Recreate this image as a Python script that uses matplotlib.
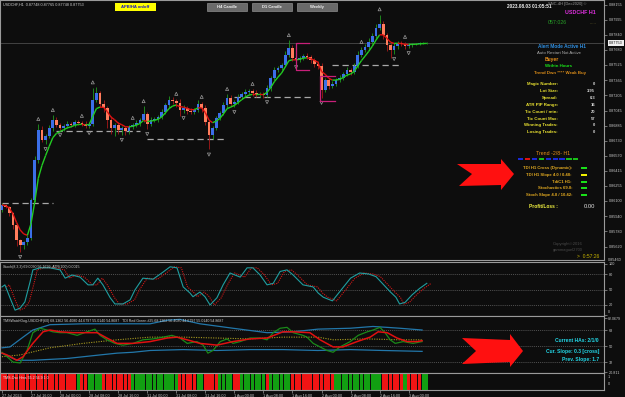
import numpy as np
import pandas as pd
import matplotlib
matplotlib.use('Agg')
import matplotlib.pyplot as plt
from matplotlib.collections import LineCollection
from matplotlib.patches import Rectangle, Polygon

plt.rcParams['font.family'] = ['Liberation Sans', 'DejaVu Sans']

W, H = 625, 397
BG = '#0d0d0d'
EDGE = '#9a9a9a'
LBL = '#c8c8c8'

# ---- USDCHF H1 candles (close prices, wicks in points) ----
first_open = 0.86003
close = [0.86056, 0.86035, 0.85972, 0.85846, 0.85689, 0.85636, 0.85668, 0.85710, 0.86108, 0.86527,
         0.86842, 0.86737, 0.86779, 0.86863, 0.86946, 0.86894, 0.86863, 0.86884, 0.86904, 0.86894,
         0.86925, 0.86915, 0.86904, 0.86884, 0.86904, 0.87156, 0.87229, 0.87114, 0.87072, 0.86946,
         0.86863, 0.86894, 0.86842, 0.86863, 0.86831, 0.86873, 0.86894, 0.86915, 0.86946, 0.87009,
         0.86904, 0.86946, 0.86957, 0.86978, 0.87030, 0.87104, 0.87156, 0.87146, 0.87125, 0.87051,
         0.87072, 0.87041, 0.87030, 0.87051, 0.87114, 0.87072, 0.86925, 0.86789, 0.86863, 0.86967,
         0.87020, 0.87104, 0.87177, 0.87114, 0.87135, 0.87187, 0.87219, 0.87240, 0.87250, 0.87229,
         0.87208, 0.87219, 0.87208, 0.87282, 0.87387, 0.87470, 0.87491, 0.87523, 0.87628, 0.87701,
         0.87596, 0.87575, 0.87596, 0.87617, 0.87607, 0.87575, 0.87533, 0.87512, 0.87261, 0.87366,
         0.87303, 0.87324, 0.87366, 0.87387, 0.87428, 0.87470, 0.87449, 0.87512, 0.87628, 0.87680,
         0.87711, 0.87764, 0.87827, 0.87911, 0.87952, 0.87837, 0.87732, 0.87680, 0.87722, 0.87753,
         0.87743, 0.87722, 0.87732, 0.87743, 0.87743, 0.87753, 0.87753, 0.87753]
up_wick = [20, 10, 15, 10, 10, 10, 10, 30, 20, 40,
           60, 40, 20, 30, 50, 30, 20, 20, 30, 20,
           20, 20, 20, 30, 20, 130, 60, 20, 40, 20,
           40, 20, 30, 20, 20, 20, 20, 30, 20, 80,
           20, 30, 20, 20, 30, 20, 40, 30, 20, 40,
           30, 20, 30, 20, 40, 20, 30, 20, 20, 20,
           20, 30, 40, 30, 20, 30, 20, 30, 20, 20,
           30, 20, 20, 30, 20, 30, 20, 20, 40, 80,
           30, 30, 20, 20, 30, 20, 20, 30, 30, 20,
           20, 30, 20, 30, 20, 30, 20, 30, 40, 30,
           30, 40, 30, 40, 100, 30, 20, 20, 30, 20,
           20, 20, 20, 10, 10, 10, 10, 10]
dn_wick = [20, 10, 30, 40, 60, 70, 40, 30, 20, 20,
           30, 20, 40, 20, 30, 20, 20, 30, 20, 20,
           20, 20, 20, 20, 20, 20, 20, 30, 40, 80,
           60, 80, 40, 50, 40, 30, 20, 20, 30, 20,
           50, 20, 20, 30, 20, 20, 30, 30, 40, 60,
           30, 30, 20, 20, 20, 40, 30, 150, 40, 20,
           20, 20, 30, 20, 30, 20, 20, 20, 20, 30,
           20, 20, 30, 20, 30, 20, 20, 20, 20, 20,
           30, 20, 20, 20, 20, 30, 30, 30, 80, 20,
           30, 20, 20, 20, 20, 20, 30, 20, 20, 20,
           20, 20, 20, 20, 20, 40, 60, 80, 40, 30,
           20, 30, 20, 20, 10, 10, 10, 10]

fractal_up = [10, 14, 22, 25, 36, 39, 48, 55, 62, 69, 79, 99, 104, 111]
fractal_dn = [5, 12, 16, 24, 33, 40, 50, 57, 64, 73, 81, 88, 108, 112]

sr_start = [0, 15, 40, 64, 91]
sr_end = [14, 38, 62, 86, 110]
sr_price = [0.86077, 0.86831, 0.86747, 0.87187, 0.87523]

box_left = [81.0, 87.6]
box_right = [84.5, 91.7]
box_top = [0.87753, 0.87408]
box_bottom = [0.87470, 0.87146]

current_price = 0.87753
price_ticks = [0.88155, 0.87995, 0.87840, 0.87680, 0.87525, 0.87365, 0.87205, 0.87045, 0.86885,
               0.86730, 0.86570, 0.86415, 0.86255, 0.86100, 0.85940, 0.85780, 0.85620]

# ---- Stochastic ----
stoch_x = [0, 0.8, 2.2, 3.6, 5, 6.3, 7.7, 8.5, 10.5, 13.2, 16, 17.4, 19.3, 21.5, 23.7, 25, 26.4,
           27.8, 29.8, 31.1, 33.3, 35.3, 36.6, 38.8, 41.6, 44.4, 46.3, 48.2, 49.9, 51.8, 52.6, 54.5,
           55.9, 57.3, 59.2, 60.9, 62.8, 65.6, 67.5, 69.1, 71.1, 73, 74.7, 76.6, 78.5, 80.2, 82.9,
           85.7, 87.1, 88.5, 91, 93.5, 96, 98.5, 101, 103, 105, 107, 108.5, 109.5, 111, 113, 115, 117]
stoch_k = [55, 59, 34, 10, 14, 26, 64, 88, 92, 92, 88, 72, 78, 74, 59, 59, 72,
           59, 34, 22, 22, 30, 49, 72, 70, 84, 94, 92, 55, 43, 36, 45,
           36, 20, 34, 59, 82, 74, 92, 92, 78, 59, 62, 85, 88, 78, 59,
           55, 43, 35, 28, 50, 72, 82, 80, 75, 60, 45, 35, 22, 25, 40, 52, 62]

# ---- TDI ----
tdi_green_x = [0, 1.4, 3, 5, 6.9, 8.5, 10.5, 12.4, 14, 16, 17.9, 20.7, 23.4, 25.6, 27, 28.9, 31.1,
               33.3, 36.1, 38.8, 41.6, 44.4, 46.8, 49, 51, 53.7, 55.4, 56.7, 58.1, 60.1, 62, 63.6,
               65.6, 68.3, 71.1, 73, 74.7, 76.6, 78.5, 80.2, 82.9, 84, 85.7, 87.6, 89.5, 91.2, 93.1,
               95.9, 98.1, 100.6, 102.2, 104.1, 105.5, 106.9, 108.3, 110.5, 113.2, 115.7]
tdi_green = [43, 38, 32, 31, 45, 65, 70, 68, 66, 65, 65, 62, 66, 69, 62, 57, 53,
             51, 53, 57, 58, 60, 62, 59, 53, 55, 51, 42, 45, 55, 58, 53,
             55, 59, 59, 57, 65, 70, 71, 65, 62, 60, 53, 49, 45, 43, 49,
             55, 62, 66, 68, 71, 65, 57, 53, 55, 53, 55]
tdi_red_x = [0, 1.4, 4.1, 5.8, 8.5, 11.3, 13.2, 16, 19.6, 23.4, 26.2, 28.9, 31.7, 36.1, 40.8, 45.5,
             48.2, 51, 54.5, 59.2, 63.6, 68.3, 73, 77.4, 80.2, 84.8, 87.6, 91.2, 93.9, 97.8, 101.4,
             103.6, 106.1, 108.8, 111.6, 114.3, 115.7]
tdi_red = [42, 40, 34, 38, 53, 66, 68, 66, 65, 65, 65, 59, 53, 53, 55, 59,
           60, 57, 53, 51, 55, 58, 59, 66, 66, 65, 57, 49, 49, 55, 60,
           66, 65, 59, 55, 55, 56]
band_up_x = [0, 2.2, 5.8, 8.5, 13.2, 22.3, 31.7, 40.8, 45.5, 49, 54.5, 63.6, 73, 80.2, 87, 95.9,
             102.2, 106, 109.6, 115.7]
band_up = [48, 49, 60, 68, 74, 75, 75, 75, 79, 80, 75, 70, 65, 66, 69, 70, 72, 71, 70, 68]
band_dn_x = [0, 4.1, 8.5, 17.9, 27, 31.7, 36.1, 40.8, 49.9, 59.2, 68.3, 77.4, 87, 95.9, 104.9, 115.7]
band_dn = [42, 34, 34, 36, 40, 42, 43, 45, 46, 45, 46, 46, 45, 46, 45, 44]
mid_x = [0, 5, 13.2, 22.3, 31.7, 40.8, 49.9, 59.2, 68.3, 77.4, 87, 91.2, 100.6, 109.6, 115.7]
mid = [38, 40, 48, 53, 57, 60, 60, 59, 58, 60, 60, 57, 58, 57, 57]

# ---- oscillator histogram runs (1 = bull, 0 = bear) ----
hist_run_len = [21, 1, 2, 4, 8, 13, 5, 2, 4, 4, 2, 7, 1, 6, 12, 13, 6, 1, 4, 2]
hist_run_bull = [0, 1, 0, 1, 0, 1, 0, 1, 0, 1, 0, 1, 0, 1, 0, 1, 0, 1, 0, 1]

time_labels = ['27 Jul 2023', '27 Jul 16:00', '28 Jul 00:00', '28 Jul 08:00', '28 Jul 16:00',
               '31 Jul 00:00', '31 Jul 08:00', '31 Jul 16:00', '1 Aug 00:00', '1 Aug 08:00',
               '1 Aug 16:00', '2 Aug 00:00', '2 Aug 08:00', '2 Aug 16:00', '3 Aug 00:00']

info_labels = ['Magic Number:', 'Lot Size:', 'Spread:', 'ATR PIP Range:', 'Tic Count / min:',
               'Tic Count Max:', 'Winning Trades:', 'Losing Trades:']
info_values = ['0', '3.95', '0.3', '16', '20', '57', '0', '0']
tdi_labels = ['TDI H1 Cross (Dynamic):', 'TDI H1 Slope 4.0 / 0.48:', 'TdiC1 H1:',
              'Stochastics 69.0:', 'Stoch Slope 4.8 / 10.42:']
tdi_states = ['#19e019', '#f0f000', '#19e019', '#19e019', '#19e019']
trend_boxes = ['#1a2ad8', '#e01010', '#1a2ad8', '#19c019', '#1a2ad8', '#1a2ad8', '#1a2ad8',
               '#19c019', '#19c019']

fig = plt.figure(figsize=(6.25, 3.97), dpi=100, facecolor=BG)


def ax_px(x0, y0, x1, y1):
    a = fig.add_axes([x0 / W, 1 - y1 / H, (x1 - x0) / W, (y1 - y0) / H])
    a.set_facecolor(BG)
    for s in a.spines.values():
        s.set_color(EDGE)
        s.set_linewidth(0.8)
    a.yaxis.tick_right()
    a.tick_params(axis='both', colors=EDGE, labelcolor=LBL, labelsize=2.7, length=2,
                  width=0.5, pad=1.2)
    return a


def txt(x, y, s, c, fs=3.3, ha='left', bold=False, **kw):
    fig.text(x / W, 1 - y / H, s, color=c, fontsize=fs, ha=ha, va='center',
             fontweight='bold' if bold else 'normal', **kw)


def rect(x0, y0, x1, y1, fc, ec='none', lw=0.5):
    fig.add_artist(Rectangle((x0 / W, 1 - y1 / H), (x1 - x0) / W, (y1 - y0) / H,
                             transform=fig.transFigure, facecolor=fc, edgecolor=ec, linewidth=lw))


def poly(pts, fc):
    fig.add_artist(Polygon([(x / W, 1 - y / H) for x, y in pts], closed=True,
                           transform=fig.transFigure, facecolor=fc, edgecolor='none'))


XLIM = (-0.55, 165.8)

# ---------------- main price chart ----------------
ax = ax_px(0, 0, 604, 260)
ax.set_xlim(*XLIM)
ax.set_ylim(0.85479, 0.88204)
c = np.array(close)
o = np.r_[first_open, c[:-1]]
hi = np.maximum(o, c) + np.array(up_wick) * 1e-5
lo = np.minimum(o, c) - np.array(dn_wick) * 1e-5
idx = np.arange(len(c))
bull = c >= o

ax.axhline(current_price, color='#4a4a4a', lw=0.6, zorder=0)
ax.hlines(sr_price, sr_start, sr_end, colors='#a8a8a8', linestyles=(0, (5, 3)), lw=0.9, zorder=1)
ax.vlines(idx, lo, hi, colors=np.where(bull, '#1f9a1f', '#a81818'), lw=0.6, zorder=2)
ax.bar(idx, np.abs(c - o) + 3e-5, bottom=np.minimum(o, c), width=0.75,
       color=np.where(bull, '#3b6fe8', '#ff7d5c'), lw=0, zorder=3)

ma = pd.Series(c).ewm(span=5, adjust=False).mean().values
segs = [[(i - 1, ma[i - 1]), (i, ma[i])] for i in range(1, len(ma))]
seg_cols = ['#22cc22' if ma[i] >= ma[i - 1] else '#dd1111' for i in range(1, len(ma))]
ax.add_collection(LineCollection(segs, colors=seg_cols, linewidths=1.0, zorder=4))

ax.scatter(fractal_up, hi[fractal_up] + 0.00055, marker='^', s=5, facecolors='none',
           edgecolors='#9a9a9a', linewidths=0.5, zorder=5)
ax.scatter(fractal_dn, lo[fractal_dn] - 0.00055, marker='v', s=5, facecolors='none',
           edgecolors='#9a9a9a', linewidths=0.5, zorder=5)

for i0, i1, pt, pb in zip(box_left, box_right, box_top, box_bottom):
    ax.plot([i1, i0, i0, i1], [pt, pt, pb, pb], color='#c8207a', lw=0.9, zorder=5)

ax.set_yticks(price_ticks)
ax.set_yticklabels(['%.5f' % p for p in price_ticks])
ax.set_xticks([])
ax.text(1.008, current_price, '%.5f' % current_price, transform=ax.get_yaxis_transform(),
        fontsize=2.7, color='#101010', va='center', ha='left',
        bbox=dict(boxstyle='square,pad=0.25', fc='#f0f0f0', ec='none'))

# ---------------- stochastic ----------------
ax2 = ax_px(0, 262, 604, 316)
ax2.set_xlim(*XLIM)
ax2.set_ylim(-1.35, 103.3)
for lvl in (80, 50, 20):
    ax2.axhline(lvl, color='#6a6a6a', lw=0.5, ls=(0, (1.5, 1.5)))
ax2.plot(np.array(stoch_x) + 1.2, stoch_k, color='#d01818', lw=0.8, ls=(0, (1, 1)))
ax2.plot(stoch_x, stoch_k, color='#1f9ea0', lw=0.8)
ax2.set_yticks([100, 80, 50, 20, 0])
ax2.set_yticklabels(['100', '80', '50', '20', ''])
ax2.set_xticks([])
txt(608, 312, '0', LBL, 2.6)

# ---------------- TDI ----------------
ax3 = ax_px(0, 316, 604, 372.5)
ax3.set_xlim(*XLIM)
ax3.set_ylim(20.25, 83.76)
for lvl in (68, 50, 32):
    ax3.axhline(lvl, color='#6a6a6a', lw=0.5, ls=(0, (1.5, 1.5)))
ax3.plot(band_up_x, band_up, color='#2277aa', lw=0.9)
ax3.plot(band_dn_x, band_dn, color='#2277aa', lw=0.9)
ax3.plot(mid_x, mid, color='#a89a20', lw=0.8, ls=(0, (1, 1.2)))
ax3.plot(tdi_green_x, tdi_green, color='#1a8a1a', lw=0.9)
ax3.plot(tdi_red_x, tdi_red, color='#e01010', lw=1.1)
ax3.set_yticks([82.0679, 68, 50, 32, 20.811])
ax3.set_yticklabels(['', '68', '50', '32', '20.811'])
ax3.set_xticks([])
txt(608, 319.5, '82.0679', LBL, 2.6)

# ---------------- histogram ----------------
ax4 = ax_px(0, 373, 604, 390)
ax4.set_xlim(*XLIM)
ax4.set_ylim(0, 1)
hist_sign = np.repeat(hist_run_bull, hist_run_len)
ax4.bar(np.arange(len(hist_sign)), np.ones(len(hist_sign)), width=0.85,
        color=np.where(hist_sign == 1, '#12a012', '#f01414'), lw=0)
ax4.set_yticks([])
ax4.set_xticks(np.arange(0, 8 * len(time_labels), 8))
ax4.set_xticklabels(time_labels)
plt.setp(ax4.get_xticklabels(), ha='left')
txt(608, 377, '1', LBL, 2.7)
txt(608, 384, '0', LBL, 2.7)
txt(608, 260, '0.85460', LBL, 2.7)

# ---------------- overlay texts ----------------
txt(3, 5, 'USDCHF,H1  0.87748 0.87765 0.87748 0.87753', '#d0d0d0', 2.7)
rect(115, 3, 156, 11, '#ffff00')
txt(135.5, 7, 'APB/HA on/off', '#1010c8', 3.0, ha='center', bold=True)
for bx0, name in ((207, 'H4 Candle'), (252, 'D1 Candle'), (297, 'Weekly')):
    rect(bx0, 3, bx0 + 40, 11, '#6a6a6a', ec='#a0a0a0', lw=0.4)
    txt(bx0 + 20, 7, name, '#f0f0f0', 3.0, ha='center', bold=True)

txt(507, 6, '2023.08.03 01:05:51', '#f0f0f0', 3.4, bold=True)
txt(548, 4.5, 'SNC-4H [Dec2020] \u00a9', '#9a9a9a', 2.9)
txt(580, 12, 'USDCHF H1', '#e030e0', 3.8, ha='center', bold=True)
txt(557, 23, '057:026', '#27a027', 3.8, ha='center')
txt(593, 23, '......', '#b0a040', 3.0, ha='center')

txt(562, 46, 'Alert Mode Active H1', '#2e8ee0', 3.4, ha='center', bold=True)
txt(559, 52.5, 'Auto Restart Not Active', '#b0b0b0', 3.1, ha='center')
txt(545, 59.5, 'Buyer', '#e8901a', 3.6, bold=True)
txt(545, 66, 'Within Hours', '#19e019', 3.2, bold=True)
txt(560, 73, 'Trend Dwn **** Weak Buy', '#d88a18', 3.2, ha='center', bold=True)

for k, (lab, val) in enumerate(zip(info_labels, info_values)):
    y = 84 + k * 6.9
    txt(558, y, lab, '#e8e030', 3.2, ha='right', bold=True)
    txt(595, y, val, '#d8d8d8', 3.0, ha='right', bold=True)

txt(553, 153, 'Trend -2/8- H1', '#e8901a', 3.8, ha='center')
for k, col in enumerate(trend_boxes):
    x0 = 518 + k * 6.9
    rect(x0, 158, x0 + 5.2, 160.2, col)

for k, (lab, col) in enumerate(zip(tdi_labels, tdi_states)):
    y = 168 + k * 6.8
    txt(572, y, lab, '#e0a820', 3.1, ha='right', bold=True)
    rect(581, y - 1.1, 586.5, y + 1.1, col)

txt(558, 207, 'Profit/Loss :', '#f0f040', 3.5, ha='right', bold=True)
txt(595, 207, '0.00', '#e0e0e0', 4.2, ha='right')
txt(553, 244, 'Copyright\u00a92016', '#4a4a4a', 3.0)
txt(553, 250, 'gammaguel2700', '#4a4a4a', 2.9)
txt(599, 257, '>  0:57:26', '#c8b400', 3.6, ha='right')

# red arrows
poly([(457, 164), (501, 164), (501, 159), (514, 174), (501, 190), (501, 185), (459, 186), (472, 174)],
     '#ff1010')
poly([(462, 338), (510, 340), (510, 334), (523, 351), (510, 367), (510, 362), (462, 364), (476, 351)],
     '#ff1010')

txt(3, 267, 'Stoch(8,3,3) 69.0030 56.1699  ATR(100) 0.0015', '#d0d0d0', 2.6)
txt(3, 321, 'TMSWatchDog-USDCHF(60) 68.1362 56.4080 44.6797 55.0140 54.8687   '
            'TDI Red Green #25 68.1362 56.4080 44.6797 55.0140 54.8687', '#d0d0d0', 2.6)
txt(3, 378, 'TMS-Osc Hms 55.2 56.9 1.0', '#f0f0f0', 2.6)

txt(599, 341, 'Current HAs: 2/1/0', '#22d8e8', 3.6, ha='right', bold=True)
txt(599, 351, 'Cur. Slope: 0.3 [cross]', '#22d8e8', 3.6, ha='right', bold=True)
txt(599, 360, 'Prev. Slope: 1.7', '#22d8e8', 3.6, ha='right', bold=True)

fig.savefig('out.png', dpi=100, facecolor=BG)
